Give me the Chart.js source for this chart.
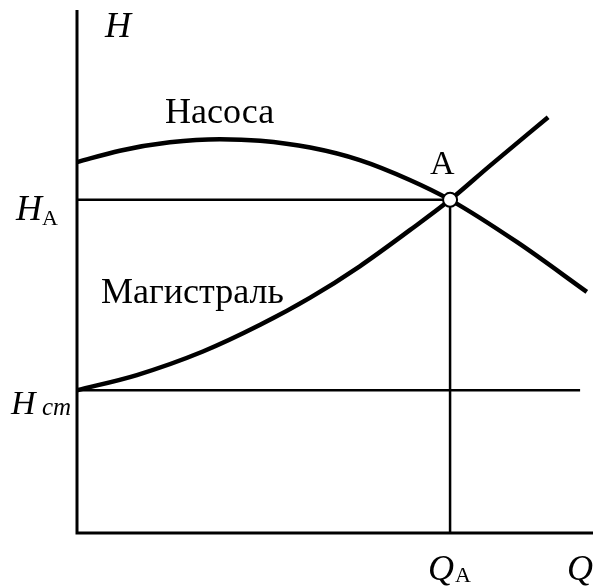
<!DOCTYPE html>
<html>
<head>
<meta charset="utf-8">
<script src="https://cdn.jsdelivr.net/npm/chart.js@4"></script>
<style>
  body { margin: 0; background: #fff; }
  #wrap { width: 593px; height: 587px; }
</style>
</head>
<body>
<div id="wrap"><canvas id="chart"></canvas></div>
<script>
// curves (Q, H in arbitrary units)
var pumpQ = [0, 0.83, 1.80, 2.77, 3.55, 4.52, 5.48, 6.45, 7.23, 8.53, 9.88];
var pumpH = [7.09, 7.31, 7.47, 7.53, 7.50, 7.37, 7.13, 6.75, 6.37, 5.56, 4.61];

var sysQ = [0, 1.16, 2.44, 3.55, 4.52, 5.48, 6.45, 7.23, 8.00, 9.13];
var sysH = [2.73, 3.02, 3.47, 3.98, 4.50, 5.10, 5.79, 6.37, 7.02, 7.95];

// working point and static head
var QA = 7.23;
var HA = 6.37;
var Hst = 2.73;
var HstEnd = 9.75;

var curveNames = ['Насоса', 'Магистраль'];

function pts(xs, ys) {
    return xs.map(function (x, i) { return {x: x, y: ys[i]}; });
}

var serif = '"Liberation Serif", "DejaVu Serif", serif';

// text labels placed next to the features they name
var labelPlugin = {
    id: 'labels',
    afterDatasetsDraw: function (chart) {
        var c = chart.ctx;
        var xs = chart.scales.x, ys = chart.scales.y;
        var x0 = xs.getPixelForValue(0);
        var xa = xs.getPixelForValue(QA);
        var ya = ys.getPixelForValue(HA);
        var yst = ys.getPixelForValue(Hst);
        var yb = ys.getPixelForValue(0);
        var yt = ys.getPixelForValue(10);
        c.save();
        c.fillStyle = '#000';
        c.textBaseline = 'alphabetic';
        c.textAlign = 'left';

        c.font = 'italic 36px ' + serif;
        c.fillText('H', x0 + 28, yt + 27);
        c.fillText('H', x0 - 61, ya + 20);
        c.fillText('Q', xa - 22, yb + 47);
        c.fillText('Q', xs.right - 26, yb + 47);
        c.font = 'italic 34px ' + serif;
        c.fillText('H', x0 - 66, yst + 24);

        c.font = '22px ' + serif;
        c.fillText('A', x0 - 35, ya + 25);
        c.fillText('A', xa + 5, yb + 49);

        c.font = 'italic 25px ' + serif;
        c.fillText('cm', x0 - 35, yst + 25);

        c.font = '34px ' + serif;
        c.fillText('A', xa - 20, ya - 26);

        c.font = '36px ' + serif;
        c.fillText(curveNames[0], x0 + 88, ys.getPixelForValue(7.84));
        c.fillText(curveNames[1], x0 + 24, ys.getPixelForValue(4.40));
        c.restore();
    }
};

var ctx = document.getElementById('chart').getContext('2d');
var chart = new Chart(ctx, {
    type: 'scatter',
    data: {
        datasets: [{
            // point A
            data: [{x: QA, y: HA}],
            pointRadius: 7,
            pointBackgroundColor: '#fff',
            pointBorderColor: '#000',
            pointBorderWidth: 2,
            showLine: false
        }, {
            data: pts(pumpQ, pumpH),
            showLine: true,
            borderColor: '#000',
            borderWidth: 4.5,
            cubicInterpolationMode: 'monotone',
            pointRadius: 0
        }, {
            data: pts(sysQ, sysH),
            showLine: true,
            borderColor: '#000',
            borderWidth: 4.5,
            cubicInterpolationMode: 'monotone',
            pointRadius: 0
        }, {
            data: [{x: 0, y: HA}, {x: QA, y: HA}],
            showLine: true,
            borderColor: '#000',
            borderWidth: 2.5,
            pointRadius: 0
        }, {
            data: [{x: QA, y: 0}, {x: QA, y: HA}],
            showLine: true,
            borderColor: '#000',
            borderWidth: 2.5,
            pointRadius: 0
        }, {
            data: [{x: 0, y: Hst}, {x: HstEnd, y: Hst}],
            showLine: true,
            borderColor: '#000',
            borderWidth: 2.5,
            pointRadius: 0
        }, {
            // axes
            data: [{x: 0, y: 10}, {x: 0, y: 0}, {x: 10, y: 0}],
            showLine: true,
            borderColor: '#000',
            borderWidth: 3,
            borderJoinStyle: 'miter',
            pointRadius: 0
        }]
    },
    options: {
        responsive: true,
        maintainAspectRatio: false,
        animation: false,
        clip: false,
        layout: {
            autoPadding: false,
            padding: {left: 77, top: 10, right: 0, bottom: 54}
        },
        scales: {
            x: {type: 'linear', min: 0, max: 10, display: false},
            y: {type: 'linear', min: 0, max: 10, display: false}
        },
        plugins: {
            legend: {display: false},
            tooltip: {enabled: false}
        }
    },
    plugins: [labelPlugin]
});
</script>
</body>
</html>
